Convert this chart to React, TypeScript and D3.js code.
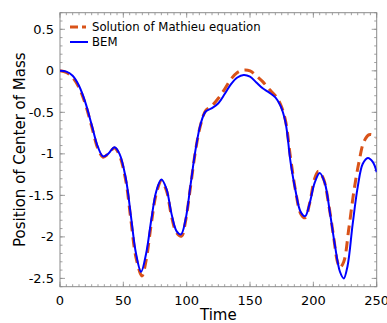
import * as d3 from "d3";

// time samples and values
const bemT = [0, 5, 10, 15, 20, 25, 30, 34, 38, 43, 47, 52, 56, 60, 64, 68, 72, 76, 80, 84, 88, 92, 95.5, 99, 103, 107, 111, 115, 120, 125, 130, 135, 140, 145, 150, 155, 160, 165, 170, 174, 178, 182, 186, 190, 193.5, 197, 201, 205, 209, 213, 217, 221, 224, 227, 231, 235, 239, 243, 247, 250];
const bemY = [0, -0.01, -0.06, -0.18, -0.38, -0.65, -0.92, -1.03, -1.0, -0.92, -1.0, -1.3, -1.75, -2.2, -2.42, -2.2, -1.8, -1.45, -1.31, -1.42, -1.72, -1.93, -1.97, -1.8, -1.38, -0.95, -0.64, -0.49, -0.45, -0.39, -0.28, -0.16, -0.08, -0.05, -0.07, -0.14, -0.21, -0.26, -0.32, -0.42, -0.62, -1.1, -1.45, -1.7, -1.75, -1.6, -1.35, -1.23, -1.35, -1.7, -2.1, -2.42, -2.5, -2.35, -1.85, -1.4, -1.12, -1.05, -1.1, -1.22];

const mathieuT = [0, 5, 10, 15, 20, 25, 30, 34, 38, 43, 47, 52, 56, 60, 64.7, 68, 72, 76, 80, 84, 88, 92, 96, 99, 103, 107, 111, 115, 120, 125, 130, 135, 140, 145, 150, 155, 160, 165, 170, 174, 178, 182, 186, 190, 193.5, 197, 201, 204, 208, 212, 216, 219, 221, 224, 228, 232, 236, 240, 244, 248, 250];
const mathieuY = [0, -0.02, -0.08, -0.2, -0.4, -0.67, -0.94, -1.04, -1.0, -0.93, -1.02, -1.33, -1.8, -2.25, -2.47, -2.28, -1.85, -1.48, -1.33, -1.44, -1.75, -1.95, -1.99, -1.82, -1.4, -0.96, -0.65, -0.48, -0.42, -0.33, -0.22, -0.1, -0.02, 0.01, 0.0, -0.06, -0.13, -0.22, -0.3, -0.4, -0.6, -1.05, -1.45, -1.72, -1.77, -1.6, -1.3, -1.21, -1.3, -1.6, -2.0, -2.3, -2.37, -2.3, -1.9, -1.45, -1.1, -0.85, -0.77, -0.78, -0.81];

const xTicks = [0, 50, 100, 150, 200, 250];
const yTicks = [0.5, 0, -0.5, -1, -1.5, -2, -2.5];

const W = 387;
const H = 323;
const margin = { top: 12.7, right: 10.3, bottom: 36.3, left: 60 };
const font = "DejaVu Sans, sans-serif";

export default function App() {
  const x = d3.scaleLinear().domain([0, 250]).range([margin.left, W - margin.right]);
  const y = d3.scaleLinear().domain([-2.6, 0.7]).range([H - margin.bottom, margin.top]);

  const line = d3
    .line<[number, number]>()
    .curve(d3.curveCatmullRom.alpha(0.5))
    .x((d) => x(d[0]))
    .y((d) => y(d[1]));

  const bem = bemT.map((t, i) => [t, bemY[i]] as [number, number]);
  const mathieu = mathieuT.map((t, i) => [t, mathieuY[i]] as [number, number]);

  const [x0, x1] = x.range();
  const [y0, y1] = y.range();
  const xMinor = d3.range(0, 250.01, 5);
  const yMinor = d3.range(-2.6, 0.701, 0.1);
  const frame = "#8a8a8a";

  return (
    <svg
      width={W}
      height={H}
      style={{ position: "absolute", left: 0, top: 0, background: "#fff" }}
      fontFamily={font}
    >
      <defs>
        <clipPath id="plot">
          <rect x={x0} y={y1} width={x1 - x0} height={y0 - y1} />
        </clipPath>
      </defs>

      {/* minor ticks, all four sides */}
      <g stroke={frame} strokeWidth={0.8}>
        {xMinor.map((t) => (
          <g key={"xm" + t}>
            <line x1={x(t)} x2={x(t)} y1={y0} y2={y0 - 2.5} />
            <line x1={x(t)} x2={x(t)} y1={y1} y2={y1 + 2.5} />
          </g>
        ))}
        {yMinor.map((v) => (
          <g key={"ym" + v.toFixed(1)}>
            <line x1={x0} x2={x0 + 2.5} y1={y(v)} y2={y(v)} />
            <line x1={x1} x2={x1 - 2.5} y1={y(v)} y2={y(v)} />
          </g>
        ))}
        {xTicks.map((t) => (
          <g key={"xM" + t}>
            <line x1={x(t)} x2={x(t)} y1={y0} y2={y0 - 5} />
            <line x1={x(t)} x2={x(t)} y1={y1} y2={y1 + 5} />
          </g>
        ))}
        {yTicks.map((v) => (
          <g key={"yM" + v}>
            <line x1={x0} x2={x0 + 5} y1={y(v)} y2={y(v)} />
            <line x1={x1} x2={x1 - 5} y1={y(v)} y2={y(v)} />
          </g>
        ))}
      </g>
      <rect x={x0} y={y1} width={x1 - x0} height={y0 - y1} fill="none" stroke={frame} strokeWidth={1} />

      {/* curves */}
      <g clipPath="url(#plot)" fill="none">
        <path d={line(mathieu) ?? ""} stroke="#d95319" strokeWidth={3} strokeDasharray="10,6" />
        <path d={line(bem) ?? ""} stroke="#0000ff" strokeWidth={2} />
      </g>

      {/* tick labels */}
      <g fontSize={13} fill="#000">
        {xTicks.map((t) => (
          <text key={"xl" + t} x={x(t)} y={y0 + 18} textAnchor="middle">
            {t}
          </text>
        ))}
        {yTicks.map((v) => (
          <text key={"yl" + v} x={x0 - 6} y={y(v)} dy="0.35em" textAnchor="end">
            {v}
          </text>
        ))}
      </g>

      {/* axis titles */}
      <text x={(x0 + x1) / 2} y={H - 3} textAnchor="middle" fontSize={15}>
        Time
      </text>
      <text
        transform={`translate(25,${(y0 + y1) / 2}) rotate(-90)`}
        textAnchor="middle"
        fontSize={15}
      >
        Position of Center of Mass
      </text>

      {/* legend */}
      <g fontSize={11.7}>
        <line x1={70} x2={86} y1={27} y2={27} stroke="#d95319" strokeWidth={3} strokeDasharray="8,4" />
        <text x={92} y={27} dy="0.35em">Solution of Mathieu equation</text>
        <line x1={70} x2={88} y1={42} y2={42} stroke="#0000ff" strokeWidth={2} />
        <text x={92} y={42} dy="0.35em">BEM</text>
      </g>
    </svg>
  );
}
